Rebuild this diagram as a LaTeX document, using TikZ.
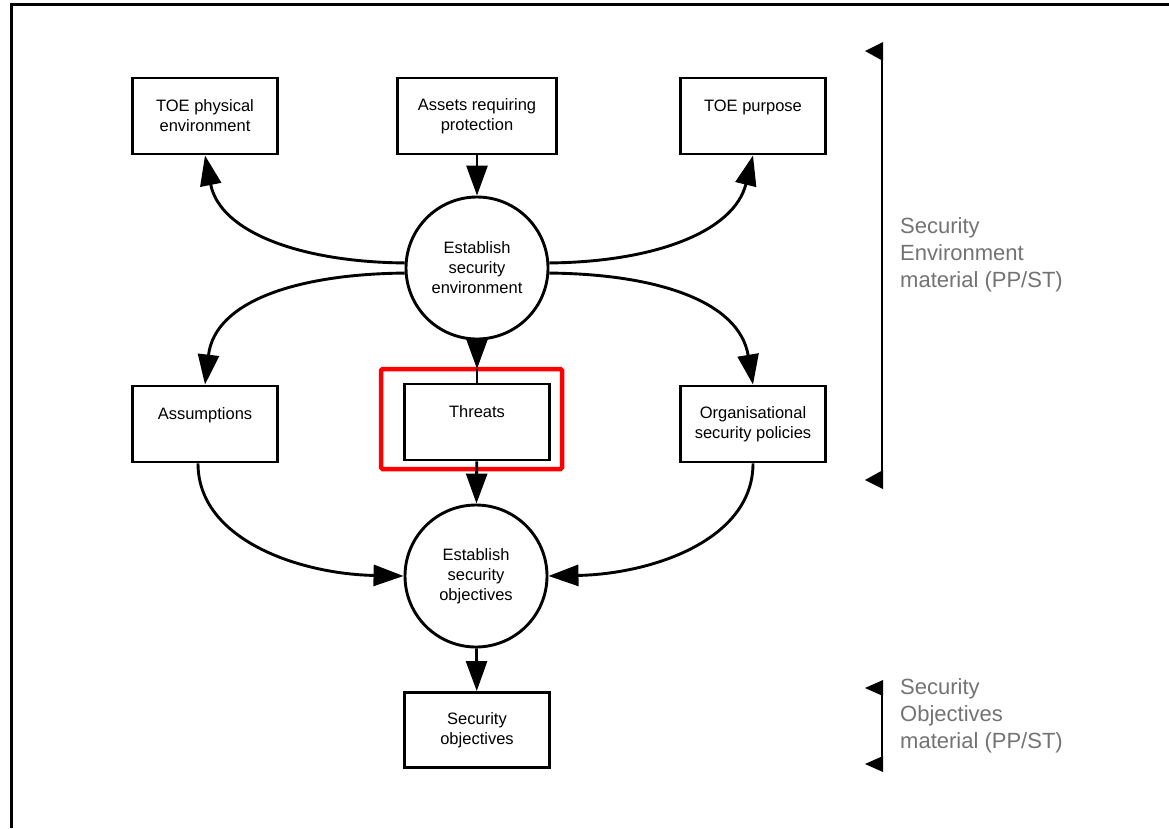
\documentclass[tikz,border=0pt]{standalone}
\usepackage{fontspec}
\setmainfont{Liberation Sans}
\usetikzlibrary{arrows.meta,calc}
\begin{document}
\begin{tikzpicture}[x=1pt,y=-1pt,
  box/.style={draw,line width=2.9pt,minimum width=145pt,minimum height=76pt,
    align=center,inner sep=0pt,font=\fontsize{16.5}{20}\selectfont},
  proc/.style={draw,circle,line width=2.9pt,minimum size=142pt,
    align=center,inner sep=0pt,font=\fontsize{16.5}{20}\selectfont},
  link/.style={line width=2.9pt},
  flow/.style={line width=2.9pt,-{Triangle[length=30pt,width=21pt]}},
  note/.style={anchor=north west,align=left,inner sep=0pt,text=black!55,
    font=\fontsize{22}{27}\selectfont},
  brace/.style={line width=2.9pt},
  highlight/.style={draw=red,line width=4.5pt,rounded corners=1.5pt}
]
\useasboundingbox (0,0) rectangle (1169,828);

% frame
\draw[line width=3pt] (11,828) -- (11,4) -- (1169,4);

% sources of the security environment
\node[box] (toephys) at (205,116) {TOE physical\\environment};
\node[box,minimum width=159pt] (assets) at (477,116) {Assets requiring\\protection};
\node[box] (purpose) at (753,116) {TOE purpose\\\mbox{}};

% processes
\node[proc] (ese) at (477,268) {Establish\\security\\environment};
\node[proc] (eso) at (476,576) {Establish\\security\\objectives};

% security environment material
\node[box] (assum) at (205,424) {Assumptions\\\mbox{}};
\node[box] (threats) at (477,422) {Threats\\\mbox{}};
\node[box] (osp) at (753,424) {Organisational\\security policies};

% security objectives
\node[box,minimum height=75pt] (secobj) at (477,730) {Security\\objectives};

% highlight around the threats box
\draw[highlight] (381,369) rectangle (562,469);

% flows into and out of the first process
\draw[flow] (assets) -- (ese);
\draw[flow] (ese.176) .. controls (300,262) and (220,232) .. (toephys.south);
\draw[flow] (ese.4) .. controls (654,262) and (734,232) .. (purpose.south);
\draw[flow] (ese.184) .. controls (300,274) and (215,300) .. (assum.north);
\draw[flow] (ese.-4) .. controls (654,274) and (739,300) .. (osp.north);
\coordinate (tin) at (477,369);
\draw[flow] (ese) -- (tin);
\draw[link] (tin) -- (threats.north);

% flows into and out of the second process
\draw[flow] (threats) -- (eso);
\draw[flow] ([xshift=-7pt]assum.south) .. controls (198,540) and (300,574) .. (eso.west);
\draw[flow] (osp.south) .. controls (753,540) and (652,574) .. (eso.east);
\draw[flow] (eso) -- (secobj);

% bracket: security environment material
\draw[brace] (882,44) -- (882,488);
\fill (865,51) -- (883,42) -- (883,61) -- cycle;
\fill (865,480) -- (883,470) -- (883,489) -- cycle;
\node[note] (envnote) at (900,217) {Security\\Environment\\material (PP/ST)};

% bracket: security objectives material
\draw[brace] (882,681) -- (882,771);
\fill (865,688) -- (883,680) -- (883,696) -- cycle;
\fill (865,764) -- (883,756) -- (883,772) -- cycle;
\node[note] (objnote) at (900,678) {Security\\Objectives\\material (PP/ST)};
\end{tikzpicture}
\end{document}
